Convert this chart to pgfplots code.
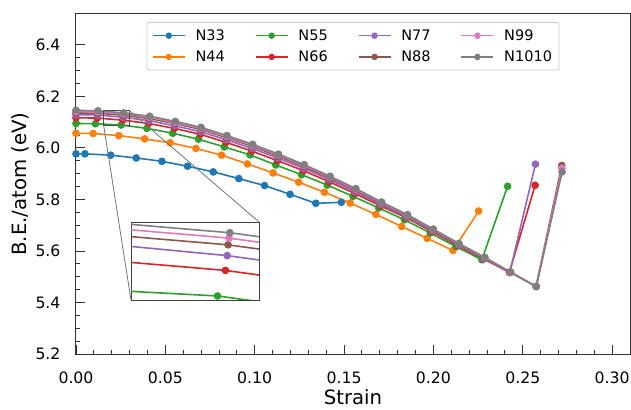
\documentclass[border=0pt]{standalone}
\usepackage{pgfplots}
\pgfplotsset{compat=1.18}
\usepackage{pgfplotstable}
\usepackage{fontspec}
\setmainfont{DejaVu Sans}
\definecolor{c0}{HTML}{1F77B4}
\definecolor{c1}{HTML}{FF7F0E}
\definecolor{c2}{HTML}{2CA02C}
\definecolor{c3}{HTML}{D62728}
\definecolor{c4}{HTML}{9467BD}
\definecolor{c5}{HTML}{8C564B}
\definecolor{c6}{HTML}{E377C2}
\definecolor{c7}{HTML}{7F7F7F}

\pgfplotstableread{
x y
0 5.977
0.0050 5.977
0.0194 5.972
0.0337 5.961
0.0481 5.948
0.0624 5.929
0.0768 5.907
0.0911 5.881
0.1055 5.854
0.1198 5.820
0.1342 5.785
0.1485 5.789
}\tNa
\pgfplotstableread{
x y
0 6.057
0.0096 6.056
0.0240 6.048
0.0384 6.035
0.0527 6.020
0.0671 5.998
0.0815 5.972
0.0959 5.938
0.1103 5.903
0.1246 5.867
0.1390 5.828
0.1534 5.786
0.1678 5.742
0.1822 5.695
0.1965 5.649
0.2109 5.602
0.2253 5.755
}\tNb
\pgfplotstableread{
x y
0 6.095
0.0109 6.094
0.0253 6.089
0.0397 6.076
0.0541 6.057
0.0685 6.034
0.0830 6.004
0.0974 5.973
0.1118 5.934
0.1262 5.896
0.1406 5.856
0.1550 5.812
0.1694 5.767
0.1838 5.721
0.1982 5.670
0.2126 5.617
0.2271 5.566
0.2415 5.851
}\tNc
\pgfplotstableread{
x y
0 6.117
0.0118 6.116
0.0262 6.108
0.0406 6.095
0.0551 6.076
0.0695 6.053
0.0839 6.022
0.0983 5.988
0.1127 5.951
0.1272 5.912
0.1416 5.869
0.1560 5.823
0.1704 5.775
0.1848 5.729
0.1993 5.675
0.2137 5.620
0.2281 5.569
0.2425 5.517
0.2569 5.855
}\tNd
\pgfplotstableread{
x y
0 6.129
0.0120 6.128
0.0264 6.119
0.0408 6.106
0.0553 6.086
0.0697 6.063
0.0841 6.032
0.0985 5.998
0.1129 5.961
0.1274 5.921
0.1418 5.877
0.1562 5.830
0.1706 5.780
0.1850 5.732
0.1995 5.678
0.2139 5.623
0.2283 5.571
0.2427 5.516
0.2571 5.937
}\tNe
\pgfplotstableread{
x y
0 6.136
0.0121 6.135
0.0265 6.127
0.0410 6.114
0.0554 6.095
0.0698 6.072
0.0843 6.040
0.0987 6.006
0.1131 5.968
0.1275 5.928
0.1420 5.883
0.1564 5.836
0.1708 5.785
0.1853 5.736
0.1997 5.681
0.2141 5.626
0.2286 5.573
0.2430 5.517
0.2574 5.462
0.2718 5.932
}\tNf
\pgfplotstableread{
x y
0 6.141
0.0122 6.140
0.0266 6.132
0.0411 6.119
0.0555 6.099
0.0699 6.076
0.0844 6.044
0.0988 6.010
0.1132 5.973
0.1276 5.932
0.1421 5.887
0.1565 5.839
0.1709 5.788
0.1854 5.739
0.1998 5.683
0.2142 5.628
0.2287 5.574
0.2431 5.517
0.2575 5.462
0.2719 5.921
}\tNg
\pgfplotstableread{
x y
0 6.146
0.0123 6.144
0.0267 6.136
0.0412 6.123
0.0556 6.103
0.0700 6.080
0.0845 6.048
0.0989 6.014
0.1133 5.976
0.1277 5.935
0.1422 5.890
0.1566 5.842
0.1710 5.790
0.1855 5.741
0.1999 5.685
0.2143 5.629
0.2288 5.575
0.2432 5.518
0.2576 5.462
0.2720 5.907
}\tNh

\pgfplotsset{
  ser/.style={color=#1, line width=1.6bp, mark=*, mark size=3bp, mark options={solid, fill=#1, draw=#1}},
  leg/.style={color=#1, line width=1.6bp, mark=*, mark size=2.4bp, mark options={solid, fill=#1, draw=#1}},
}

\begin{document}
\begin{tikzpicture}
\path[use as bounding box] (-76bp,-56bp) rectangle (555bp,354bp);
\begin{axis}[
  name=main, at={(0,0)}, anchor=south west,
  scale only axis, width=554bp, height=340bp,
  xmin=0, xmax=0.31, ymin=5.2, ymax=6.52,
  xtick={0,0.05,...,0.30}, ytick={5.2,5.4,...,6.4},
  minor x tick num=4, minor y tick num=3,
  xtick pos=bottom, ytick pos=left,
  tick align=inside,
  major tick length=9bp, minor tick length=4.5bp,
  every tick/.style={black!80, line width=0.9bp},
  axis line style={black!80, line width=1bp},
  /pgf/number format/assume math mode=true,
  xticklabel style={/pgf/number format/fixed, /pgf/number format/fixed zerofill, /pgf/number format/precision=2, yshift=-14bp},
  yticklabel style={/pgf/number format/fixed, /pgf/number format/fixed zerofill, /pgf/number format/precision=1, xshift=-12bp},
  tick label style={font=\fontsize{15.7bp}{18bp}\selectfont},
  label style={font=\fontsize{19.7bp}{23bp}\selectfont},
  xlabel style={yshift=1bp},
  xlabel={Strain}, ylabel={B.E./atom (eV)},
  legend columns=4,
  legend cell align=left,
  legend style={at={(0.5,0.976)}, anchor=north, draw=black!20, line width=0.8bp, rounded corners=2bp, fill=white,
    font=\fontsize{14.5bp}{17bp}\selectfont,
    inner xsep=5bp, inner ysep=5bp, row sep=5bp,
    /tikz/every odd column/.append style={column sep=8bp},
    /tikz/every even column/.append style={column sep=28bp}},
  legend image code/.code={\draw[mark repeat=2,mark phase=2] plot coordinates {(0bp,0bp) (16bp,0bp) (32bp,0bp)};},
]
\addlegendimage{leg=c0}\addlegendentry{N33}
\addlegendimage{leg=c2}\addlegendentry{N55}
\addlegendimage{leg=c4}\addlegendentry{N77}
\addlegendimage{leg=c6}\addlegendentry{N99}
\addlegendimage{leg=c1}\addlegendentry{N44}
\addlegendimage{leg=c3}\addlegendentry{N66}
\addlegendimage{leg=c5}\addlegendentry{N88}
\addlegendimage{leg=c7}\addlegendentry{N1010}
\addplot[ser=c0, forget plot] table {\tNa};
\addplot[ser=c1, forget plot] table {\tNb};
\addplot[ser=c2, forget plot] table {\tNc};
\addplot[ser=c3, forget plot] table {\tNd};
\addplot[ser=c4, forget plot] table {\tNe};
\addplot[ser=c5, forget plot] table {\tNf};
\addplot[ser=c6, forget plot] table {\tNg};
\addplot[ser=c7, forget plot] table {\tNh};
\draw[black!70, line width=0.8bp] (axis cs:0.0155,6.086) rectangle (axis cs:0.030,6.144);
\coordinate (bSW) at (axis cs:0.0155,6.086);
\coordinate (bNE) at (axis cs:0.030,6.144);
\end{axis}
\begin{axis}[
  name=inset, at={(55bp,54bp)}, anchor=south west,
  scale only axis, width=128bp, height=78bp,
  xmin=0.0155, xmax=0.030, ymin=6.086, ymax=6.144,
  ticks=none,
  axis background/.style={fill=white},
  axis line style={black!75, line width=0.9bp},
]
\addplot[ser=c2] table {\tNc};
\addplot[ser=c3] table {\tNd};
\addplot[ser=c4] table {\tNe};
\addplot[ser=c5] table {\tNf};
\addplot[ser=c6] table {\tNg};
\addplot[ser=c7] table {\tNh};
\end{axis}
\draw[black!55, line width=0.8bp] (bSW) -- (inset.south west);
\draw[black!55, line width=0.8bp] (bNE) -- (inset.north east);
\end{tikzpicture}
\end{document}
